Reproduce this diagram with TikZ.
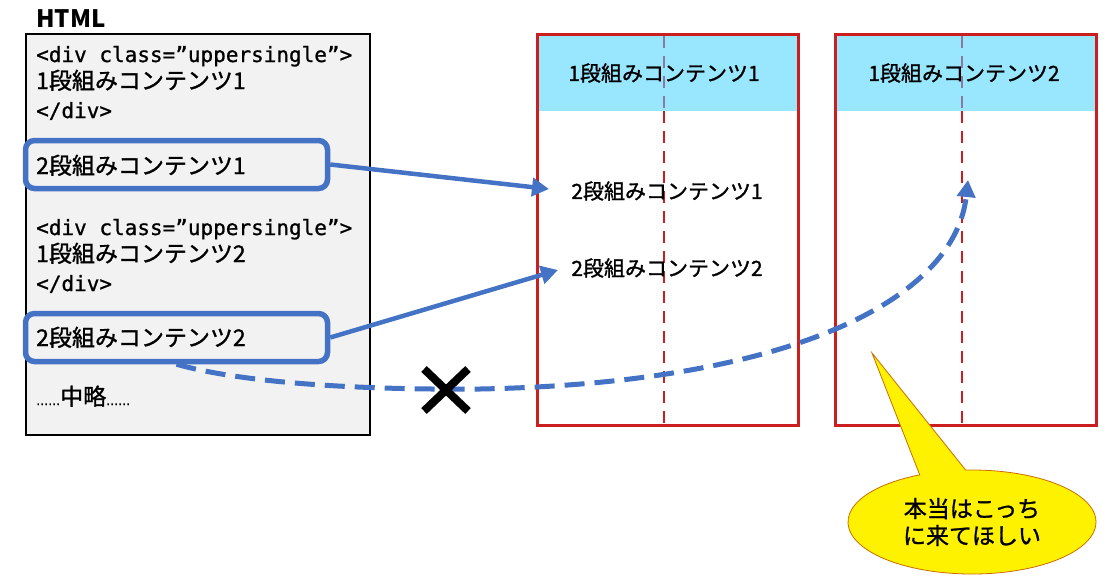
\documentclass[tikz,border=0pt]{standalone}
\usepackage{fontspec}
\setmainfont{Noto Sans CJK JP}
\newfontfamily\jpm[FakeBold=1.2]{Noto Sans CJK JP}
\newfontfamily\mono[FakeBold=0.9]{DejaVu Sans Mono}
\newfontfamily\dv[FakeBold=1.5]{DejaVu Sans}
\usetikzlibrary{arrows.meta,shapes.callouts,shapes.geometric}
\definecolor{bblue}{RGB}{68,114,196}
\definecolor{rred}{RGB}{204,30,30}
\definecolor{hblue}{RGB}{153,230,255}
\definecolor{lgray}{RGB}{242,242,242}
\definecolor{mauve}{RGB}{140,120,160}
\definecolor{cborder}{RGB}{200,110,0}
\tikzset{
  codetxt/.style={anchor=base west,inner sep=0pt,font=\mono\fontsize{21}{21}\selectfont},
  jptxt/.style={anchor=base west,inner sep=0pt,font=\jpm\fontsize{23}{23}\selectfont},
  rtxt/.style={anchor=center,inner sep=0pt,font=\jpm\fontsize{21}{21}\selectfont},
  bbox/.style={draw=bblue,line width=5.5pt,rounded corners=9pt,fill=lgray,minimum width=302pt,minimum height=48pt,inner sep=0pt},
  rbox/.style={draw=rred,line width=3pt,fill=white,minimum width=261pt,minimum height=391pt,inner sep=0pt},
  hdr/.style={fill=hblue,minimum width=258pt,minimum height=75pt,inner sep=0pt},
  barrow/.style={draw=bblue,line width=4.5pt,-{Triangle[length=17pt,width=18pt]}},
  bdash/.style={draw=bblue,line width=5pt,dash pattern=on 20pt off 10pt,-{Triangle[length=17pt,width=18pt]}},
  colline/.style={line width=2.5pt,dash pattern=on 12pt off 8pt},
  xmark/.style={line width=8pt,black},
}
\begin{document}
\begin{tikzpicture}[x=1pt,y=-1pt]
\useasboundingbox (0,0) rectangle (1109,582);
% left HTML panel
\node[anchor=base west,inner sep=0pt,font=\bfseries\fontsize{24}{24}\selectfont] (html) at (36,27) {HTML};
\node[draw=black,line width=2pt,fill=lgray,minimum width=344pt,minimum height=401pt,inner sep=0pt] (left) at (198,234.5) {};
\node[codetxt] (c1) at (36,62) {<div class=”uppersingle”>};
\node[jptxt] (c2) at (36,89) {1段組みコンテンツ1};
\node[codetxt] (c3) at (36,118) {</div>};
\node[bbox] (b1) at (176.5,164.5) {};
\node[jptxt] (t1) at (36,174) {2段組みコンテンツ1};
\node[codetxt] (c4) at (36,235) {<div class=”uppersingle”>};
\node[jptxt] (c5) at (36,262) {1段組みコンテンツ2};
\node[codetxt] (c6) at (36,291) {</div>};
\node[bbox] (b2) at (176.5,337.5) {};
\node[jptxt] (t2) at (36,346) {2段組みコンテンツ2};
\node[jptxt] (om) at (36,405) {{\dv\fontsize{12}{12}\selectfont ……}中略{\dv\fontsize{12}{12}\selectfont ……}};
% right boxes
\node[rbox] (A) at (668,230) {};
\node[hdr] (hA) at (668,73.5) {};
\node[rbox] (B) at (965.5,230) {};
\node[hdr] (hB) at (965.5,73.5) {};
\draw[colline,mauve] (664,36) -- (664,111);
\draw[colline,rred] (664,111) -- (664,425);
\draw[colline,mauve] (962,36) -- (962,111);
\draw[colline,rred] (962,111) -- (962,425);
\node[draw=rred,line width=3pt,minimum width=261pt,minimum height=391pt,inner sep=0pt] (Aframe) at (668,230) {};
\node[draw=rred,line width=3pt,minimum width=261pt,minimum height=391pt,inner sep=0pt] (Bframe) at (965.5,230) {};
\node[rtxt] (hAt) at (664,73) {1段組みコンテンツ1};
\node[rtxt] (hBt) at (964,73) {1段組みコンテンツ2};
\node[rtxt] (a1) at (667,191) {2段組みコンテンツ1};
\node[rtxt] (a2) at (667,268) {2段組みコンテンツ2};
% connectors
\coordinate (tip1) at (549,189);
\coordinate (tip2) at (558,270);
\coordinate (tip3) at (968,180);
\draw[barrow] (b1.east) -- (tip1);
\draw[barrow] (b2.east) -- (tip2);
\draw[bdash] (b2.south) .. controls (250,385) and (380,390) .. (480,389)
  .. controls (790,383) and (955,300) .. (tip3);
% cross mark
\coordinate (xm) at (446,390);
\draw[xmark] ([shift={(-22,-21)}]xm) -- ([shift={(22,21)}]xm);
\draw[xmark] ([shift={(-22,21)}]xm) -- ([shift={(22,-21)}]xm);
% callout
\node[ellipse callout,draw=cborder,line width=0.8pt,fill=yellow,minimum width=248pt,minimum height=104pt,inner sep=0pt,
  callout absolute pointer={(872,353)},callout pointer arc=22,align=center,font=\jpm\fontsize{23}{27}\selectfont] (call) at (972,522) {本当はこっち\\に来てほしい};
\end{tikzpicture}
\end{document}
